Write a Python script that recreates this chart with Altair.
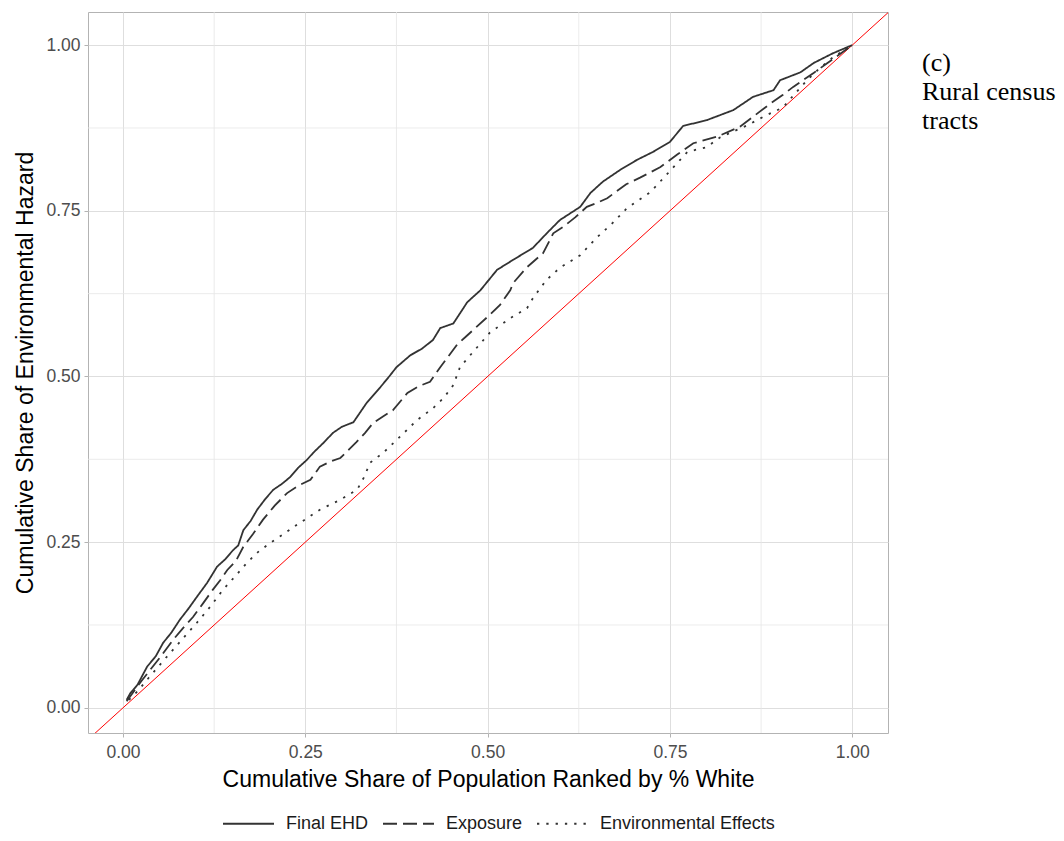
import altair as alt
import pandas as pd

# Lorenz-style curves, values
ehd_x = [0.005, 0.010, 0.014, 0.020, 0.033, 0.045, 0.055, 0.066, 0.078, 0.090,
         0.101, 0.115, 0.129, 0.140, 0.151, 0.158, 0.165, 0.175, 0.184, 0.195,
         0.206, 0.218, 0.229, 0.240, 0.252, 0.261, 0.275, 0.288, 0.300, 0.316,
         0.334, 0.353, 0.365, 0.375, 0.394, 0.410, 0.425, 0.435, 0.453, 0.472,
         0.490, 0.513, 0.535, 0.562, 0.581, 0.599, 0.627, 0.641, 0.658, 0.682,
         0.705, 0.727, 0.750, 0.768, 0.801, 0.837, 0.864, 0.892, 0.901, 0.929,
         0.947, 0.974, 1.000]
ehd_y = [0.012, 0.022, 0.027, 0.035, 0.062, 0.078, 0.098, 0.113, 0.133, 0.150,
         0.167, 0.188, 0.213, 0.224, 0.238, 0.245, 0.268, 0.282, 0.299, 0.315,
         0.329, 0.338, 0.348, 0.362, 0.374, 0.385, 0.400, 0.415, 0.424, 0.431,
         0.460, 0.484, 0.500, 0.514, 0.532, 0.542, 0.555, 0.573, 0.580, 0.612,
         0.630, 0.661, 0.676, 0.694, 0.716, 0.736, 0.756, 0.777, 0.794, 0.812,
         0.827, 0.839, 0.854, 0.878, 0.887, 0.902, 0.922, 0.932, 0.947, 0.959,
         0.973, 0.988, 1.000]

exp_x = [0.005, 0.015, 0.025, 0.037, 0.050, 0.069, 0.082, 0.096, 0.110, 0.123,
         0.133, 0.143, 0.155, 0.165, 0.178, 0.192, 0.208, 0.225, 0.240, 0.257,
         0.270, 0.285, 0.298, 0.310, 0.320, 0.332, 0.343, 0.357, 0.370, 0.390,
         0.405, 0.421, 0.435, 0.458, 0.470, 0.480, 0.503, 0.517, 0.531, 0.535,
         0.554, 0.576, 0.590, 0.604, 0.620, 0.636, 0.650, 0.664, 0.690, 0.709,
         0.737, 0.760, 0.782, 0.815, 0.846, 0.870, 0.888, 0.905, 0.919, 0.947,
         0.966, 0.985, 1.000]
exp_y = [0.010, 0.025, 0.040, 0.057, 0.075, 0.103, 0.120, 0.137, 0.158, 0.178,
         0.192, 0.208, 0.222, 0.243, 0.262, 0.284, 0.305, 0.324, 0.335, 0.344,
         0.364, 0.372, 0.377, 0.390, 0.401, 0.415, 0.430, 0.440, 0.449, 0.475,
         0.485, 0.492, 0.514, 0.548, 0.560, 0.570, 0.593, 0.608, 0.630, 0.641,
         0.665, 0.686, 0.716, 0.726, 0.740, 0.756, 0.762, 0.769, 0.790, 0.800,
         0.816, 0.835, 0.852, 0.862, 0.877, 0.897, 0.912, 0.925, 0.937, 0.958,
         0.973, 0.988, 1.000]

env_x = [0.008, 0.020, 0.035, 0.060, 0.080, 0.101, 0.120, 0.137, 0.155, 0.170,
         0.185, 0.202, 0.220, 0.238, 0.255, 0.270, 0.285, 0.298, 0.310, 0.321,
         0.330, 0.339, 0.357, 0.375, 0.390, 0.403, 0.425, 0.440, 0.453, 0.462,
         0.480, 0.503, 0.531, 0.554, 0.562, 0.572, 0.581, 0.599, 0.627, 0.650,
         0.670, 0.691, 0.723, 0.750, 0.774, 0.800, 0.819, 0.856, 0.880, 0.905,
         0.920, 0.938, 0.955, 0.974, 1.000]
env_y = [0.012, 0.025, 0.045, 0.077, 0.102, 0.128, 0.153, 0.178, 0.200, 0.219,
         0.235, 0.249, 0.262, 0.276, 0.288, 0.299, 0.307, 0.314, 0.322, 0.329,
         0.347, 0.370, 0.385, 0.404, 0.420, 0.434, 0.452, 0.468, 0.487, 0.514,
         0.537, 0.566, 0.588, 0.603, 0.618, 0.633, 0.646, 0.664, 0.683, 0.710,
         0.730, 0.754, 0.778, 0.810, 0.839, 0.846, 0.861, 0.879, 0.893, 0.906,
         0.925, 0.947, 0.965, 0.982, 1.000]

series_names = ["Final EHD", "Exposure", "Environmental Effects"]
series_dash = [[1, 0], [14, 6], [2.3, 7]]

ref_line = [-0.1, 1.1]          # y = x equality line, clipped to the panel
minor_breaks = [0.125, 0.375, 0.625, 0.875]
major_breaks = [0.0, 0.25, 0.5, 0.75, 1.0]
annotation = "(c)\nRural census\ntracts"

X_DOM = [-0.048, 1.049]
Y_DOM = [-0.038, 1.05]

frames = []
for name, xs, ys in zip(series_names, [ehd_x, exp_x, env_x], [ehd_y, exp_y, env_y]):
    frames.append(pd.DataFrame({"x": xs, "y": ys, "series": name, "order": range(len(xs))}))
curves = pd.concat(frames, ignore_index=True)

xs = alt.Scale(domain=X_DOM, nice=False, zero=False)
ys = alt.Scale(domain=Y_DOM, nice=False, zero=False)

minor_df = pd.DataFrame({"v": minor_breaks})
minor_v = alt.Chart(minor_df).mark_rule(color="#e6e6e6", strokeWidth=0.8).encode(
    x=alt.X("v:Q", scale=xs))
minor_h = alt.Chart(minor_df).mark_rule(color="#e6e6e6", strokeWidth=0.8).encode(
    y=alt.Y("v:Q", scale=ys))

ref = alt.Chart(pd.DataFrame({"x": ref_line, "y": ref_line})).mark_line(
    color="#ff0000", strokeWidth=1, clip=True
).encode(x=alt.X("x:Q", scale=xs), y=alt.Y("y:Q", scale=ys))

lines = alt.Chart(curves).mark_line(color="#333333", strokeWidth=1.8, clip=True).encode(
    x=alt.X("x:Q", scale=xs,
            title="Cumulative Share of Population Ranked by % White",
            axis=alt.Axis(values=major_breaks, format=".2f")),
    y=alt.Y("y:Q", scale=ys,
            title="Cumulative Share of Environmental Hazard",
            axis=alt.Axis(values=major_breaks, format=".2f")),
    strokeDash=alt.StrokeDash(
        "series:N",
        scale=alt.Scale(domain=series_names, range=series_dash),
        legend=alt.Legend(
            title=None, orient="none", direction="horizontal",
            legendX=134, legendY=785, symbolType="stroke", symbolSize=2601,
            symbolStrokeColor="#333333", symbolStrokeWidth=1.8,
            labelFontSize=18, labelColor="#1a1a1a", labelOffset=11,
            labelLimit=400, columnPadding=10, padding=0,
        ),
    ),
    detail="series:N",
    order="order:Q",
)

note = alt.Chart(pd.DataFrame({"t": [annotation]})).mark_text(
    align="left", baseline="top", font="Liberation Serif", fontSize=26,
    lineHeight=29, lineBreak="\n", color="#000000",
).encode(text="t:N", x=alt.value(834), y=alt.value(38))

chart = (
    alt.layer(minor_v, minor_h, ref, lines, note)
    .properties(
        width=800, height=721, autosize="none",
        padding={"left": 80, "top": 4, "right": 168, "bottom": 100},
    )
    .configure(font="Liberation Sans")
    .configure_view(stroke="#b3b3b3", strokeWidth=1)
    .configure_axis(
        grid=True, gridColor="#dedede", gridWidth=1, domain=False,
        tickColor="#b3b3b3", tickSize=4, tickWidth=1,
        labelFontSize=17.5, labelColor="#4d4d4d", labelPadding=4,
        titleFontSize=23, titleFontWeight="normal", titleColor="#000000",
    )
    .configure_axisX(titlePadding=8, labelPadding=6)
    .configure_axisY(titlePadding=8)
)

chart.save("out.html", embed_options={"renderer": "svg", "actions": False})
